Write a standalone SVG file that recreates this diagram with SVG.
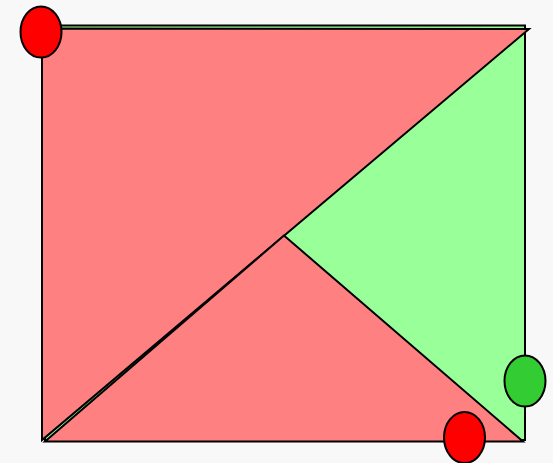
<svg xmlns="http://www.w3.org/2000/svg" width="553" height="463" viewBox="0 0 553 463">
<style>
.s{stroke:#000;stroke-width:2;stroke-linejoin:miter}
.g{fill:#99ff99}
.r{fill:#ff8080}
.rc{fill:#ff0000}
.gc{fill:#33cc33}
</style>
<rect width="553" height="463" fill="#f8f8f8"/>
<g id="shapes">
<polygon id="green-area" class="s g" points="42,25.5 525,25.5 525,440 45,440"/>
<polygon id="red-top" class="s r" points="42,28.5 529,29 42,440"/>
<polygon id="red-bottom" class="s r" points="45,441.5 284,235.5 523,441.5"/>
</g>
<g id="n1"><ellipse class="s rc" cx="41" cy="32" rx="20.5" ry="25.5"/></g>
<g id="n2"><ellipse class="s gc" cx="525" cy="381" rx="20.5" ry="25.5"/></g>
<g id="n3"><ellipse class="s rc" cx="464.5" cy="437.5" rx="20.5" ry="25.5"/></g>
</svg>
